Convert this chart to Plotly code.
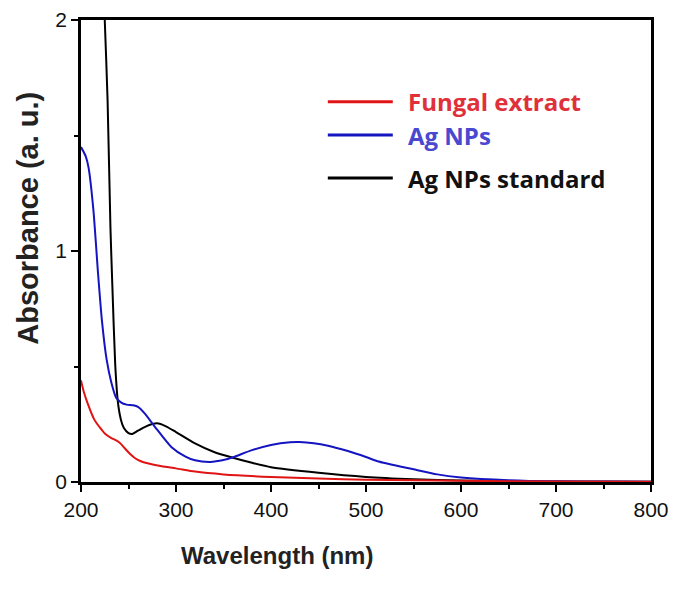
import plotly.graph_objects as go

# Fungal extract (red)
wl_red = [200, 203, 207, 214, 220, 225, 232, 238, 242, 246, 252, 257, 263, 270, 285, 300, 320, 350, 400, 450, 500, 600, 700, 800]
abs_red = [0.44, 0.39, 0.34, 0.27, 0.235, 0.21, 0.19, 0.178, 0.165, 0.146, 0.12, 0.103, 0.09, 0.081, 0.068, 0.059, 0.045, 0.033, 0.022, 0.015, 0.010, 0.005, 0.002, 0.001]

# Ag NPs (blue)
wl_blue = [200, 205, 208, 213, 218, 222, 227, 232, 237, 242, 248, 255, 260, 267, 278, 295, 310, 320, 336, 350, 360, 380, 400, 420, 430, 445, 460, 480, 500, 512, 550, 575, 600, 650, 700, 750, 800]
abs_blue = [1.45, 1.41, 1.36, 1.18, 0.90, 0.70, 0.53, 0.43, 0.365, 0.345, 0.335, 0.332, 0.325, 0.297, 0.238, 0.152, 0.11, 0.094, 0.087, 0.095, 0.107, 0.138, 0.16, 0.172, 0.173, 0.168, 0.157, 0.135, 0.108, 0.09, 0.055, 0.033, 0.02, 0.008, 0.003, 0.002, 0.001]

# Ag NPs standard (black)
wl_black = [222, 225, 228, 231, 233, 236, 239, 242, 245, 250, 254, 260, 268, 280, 290, 300, 320, 340, 360, 380, 400, 450, 500, 550, 600, 700, 800]
abs_black = [2.3, 2.0, 1.65, 1.1, 0.85, 0.51, 0.34, 0.27, 0.235, 0.212, 0.208, 0.222, 0.24, 0.254, 0.24, 0.216, 0.167, 0.13, 0.105, 0.083, 0.064, 0.04, 0.022, 0.012, 0.006, 0.002, 0.001]

series_names = ["Fungal extract", "Ag NPs", "Ag NPs standard"]
line_colors = ["#e01414", "#1414c0", "#000000"]
text_colors = ["#e0303a", "#4848d0", "#111111"]

x_ticks = [200, 300, 400, 500, 600, 700, 800]
y_ticks = [0, 1, 2]

fig = go.Figure()
for wl, ab, name, col in [(wl_black, abs_black, series_names[2], line_colors[2]),
                          (wl_blue, abs_blue, series_names[1], line_colors[1]),
                          (wl_red, abs_red, series_names[0], line_colors[0])]:
    fig.add_trace(go.Scatter(x=wl, y=ab, mode="lines", name=name,
                             line=dict(color=col, width=2, shape="spline", smoothing=0.6),
                             showlegend=False))

tickfont = dict(family="Liberation Sans, Arial, sans-serif", size=21, color="#111111")
fig.update_xaxes(range=[200, 800], tickvals=x_ticks, ticktext=[str(v) for v in x_ticks],
                 showgrid=False, zeroline=False, showline=True, linecolor="black", linewidth=2.5,
                 mirror=True, ticks="outside", ticklen=7, tickwidth=2, tickcolor="black",
                 minor=dict(tickvals=[250, 350, 450, 550, 650, 750], ticks="outside", ticklen=4,
                            tickwidth=2, tickcolor="black", showgrid=False),
                 tickfont=tickfont, automargin=False)
fig.update_yaxes(range=[0, 2], tickvals=y_ticks, ticktext=[str(v) for v in y_ticks],
                 showgrid=False, zeroline=False, showline=True, linecolor="black", linewidth=2.5,
                 mirror=True, ticks="outside", ticklen=7, tickwidth=2, tickcolor="black",
                 minor=dict(tickvals=[0.5, 1.5], ticks="outside", ticklen=4,
                            tickwidth=2, tickcolor="black", showgrid=False),
                 tickfont=tickfont, automargin=False)

fig.add_annotation(text="<b>Wavelength (nm)</b>", xref="paper", yref="paper",
                   x=0.344, y=-0.160, xanchor="center", yanchor="middle", showarrow=False,
                   font=dict(family="Liberation Sans, Arial, sans-serif", size=24, color="#222222"))
fig.add_annotation(text="<b>Absorbance (a. u.)</b>", xref="paper", yref="paper",
                   x=-0.093, y=0.572, xanchor="center", yanchor="middle", textangle=-90,
                   showarrow=False,
                   font=dict(family="Liberation Sans, Arial, sans-serif", size=29, color="#222222"))

# Legend drawn manually
leg_y = [0.823, 0.751, 0.658]
for i in range(3):
    fig.add_shape(type="line", xref="paper", yref="paper", x0=0.433, x1=0.547,
                  y0=leg_y[i], y1=leg_y[i], line=dict(color=line_colors[i], width=3))
    fig.add_annotation(text="<b>" + series_names[i] + "</b>", xref="paper", yref="paper",
                       x=0.570, y=leg_y[i], xanchor="left", yanchor="middle", showarrow=False,
                       font=dict(family="Open Sans, sans-serif", size=24,
                                 color=text_colors[i]))

# page body adds an 8px offset; size figure so the plot area lands where the reference has it
fig.update_layout(width=677, height=581, margin=dict(l=73, r=34, t=12, b=107),
                  plot_bgcolor="white", paper_bgcolor="white")
fig.write_html("out.html")
